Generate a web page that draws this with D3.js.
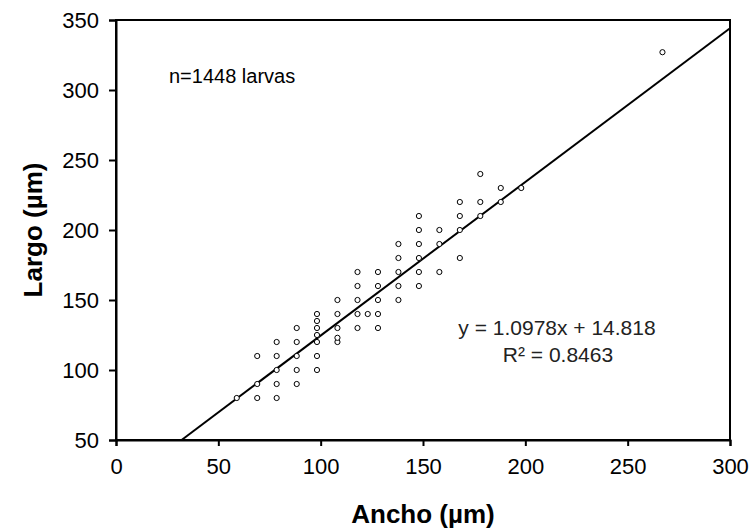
<!DOCTYPE html>
<html><head><meta charset="utf-8">
<script src="https://cdn.jsdelivr.net/npm/d3@7"></script>
<style>
html,body{margin:0;padding:0;background:#fff;}
svg{display:block;font-family:"Liberation Sans",Arial,sans-serif;}
</style></head>
<body>
<svg id="chart" width="751" height="531"></svg>
<script>
// Data (Ancho, Largo) in µm
const ancho = [59,69,69,69,78.5,78.5,78.5,78.5,78.5,88.3,88.3,88.3,88.3,88.3,
  98.2,98.2,98.2,98.2,98.2,98.2,98.2,108.2,108.2,108.2,108.2,108.2,
  118,118,118,118,118,123,128,128,128,128,128,138,138,138,138,138,
  148,148,148,148,148,148,158,158,158,168,168,168,168,178,178,178,188,188,198,267];
const largo = [80,80,90,110,80,90,100,110,120,90,100,110,120,130,
  100,110,120,125,130,135,140,120,123,130,140,150,
  130,140,150,160,170,140,130,140,150,160,170,150,160,170,180,190,
  160,170,180,190,200,210,170,190,200,180,200,210,220,210,220,240,220,230,230,327];
const xTicks = [0,50,100,150,200,250,300];
const yTicks = [50,100,150,200,250,300,350];
const slope = 1.0978, intercept = 14.818;
const eqText = "y = 1.0978x  +  14.818";
const r2Text = "R\u00B2 = 0.8463";
const nText = "n=1448 larvas";
const xTitle = "Ancho (\u00B5m)";
const yTitle = "Largo (\u00B5m)";

const svg = d3.select("#chart");
const L = 116, R = 730, T = 20, B = 440;
const x = d3.scaleLinear().domain([0,300]).range([L,R]);
const y = d3.scaleLinear().domain([50,350]).range([B,T]);

// frame
svg.append("rect").attr("x",L).attr("y",T).attr("width",R-L).attr("height",B-T)
  .attr("fill","none").attr("stroke","#000").attr("stroke-width",2);

const xAxis = svg.append("g").attr("transform",`translate(0,${B})`)
  .call(d3.axisBottom(x).tickValues(xTicks).tickSize(6).tickPadding(12).tickFormat(d3.format("d")));
const yAxis = svg.append("g").attr("transform",`translate(${L},0)`)
  .call(d3.axisLeft(y).tickValues(yTicks).tickSize(7).tickPadding(10).tickFormat(d3.format("d")));
[xAxis,yAxis].forEach(g=>{
  g.select(".domain").attr("stroke","#000").attr("stroke-width",2);
  g.selectAll(".tick line").attr("stroke","#000").attr("stroke-width",2);
  g.selectAll(".tick text").attr("fill","#000").style("font-size","22px")
   .style("font-family","'Liberation Sans',Arial,sans-serif");
});

// regression line
const x0 = (50 - intercept)/slope, x1 = 300;
svg.append("line").attr("x1",x(x0)).attr("y1",y(slope*x0+intercept))
  .attr("x2",x(x1)).attr("y2",y(slope*x1+intercept))
  .attr("stroke","#000").attr("stroke-width",2);

// points
svg.append("g").selectAll("circle").data(d3.range(ancho.length)).join("circle")
  .attr("cx",i=>x(ancho[i])).attr("cy",i=>y(largo[i])).attr("r",2.6)
  .attr("fill","#fff").attr("stroke","#000").attr("stroke-width",1);

// texts
svg.append("text").attr("x",169).attr("y",83).text(nText)
  .style("font-size","20px").attr("fill","#000");
svg.append("text").attr("x",557).attr("y",335).attr("text-anchor","middle")
  .text(eqText).style("font-size","21px").attr("fill","#222");
svg.append("text").attr("x",558).attr("y",362).attr("text-anchor","middle")
  .text(r2Text).style("font-size","21px").attr("fill","#222");

svg.append("text").attr("x",(L+R)/2).attr("y",523).attr("text-anchor","middle")
  .text(xTitle).style("font-size","26px").style("font-weight","bold");
svg.append("text").attr("transform",`translate(42,${(T+B)/2}) rotate(-90)`).attr("text-anchor","middle")
  .text(yTitle).style("font-size","26px").style("font-weight","bold");
</script>
</body></html>
